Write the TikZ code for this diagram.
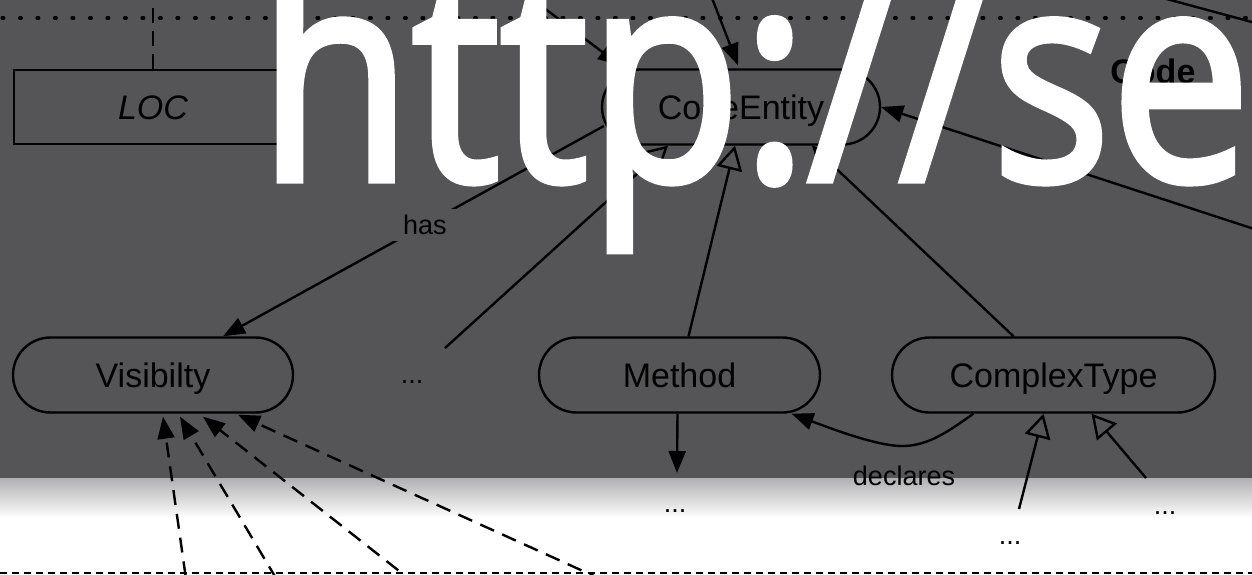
\documentclass[tikz,border=0pt]{standalone}
\usepackage{fontspec}
\setmainfont{Liberation Sans}
\newfontfamily\urlfont[FakeBold=2.5]{Open Sans}
\usetikzlibrary{arrows.meta,shapes.misc}

\definecolor{bggray}{RGB}{85,85,87}
\definecolor{fadegray}{RGB}{176,176,178}

\tikzset{
  entity/.style={draw, rounded rectangle, line width=1.2pt, inner sep=0pt,
    minimum height=37.5pt, text height=12.5pt, text depth=0.5pt,
    font=\fontsize{17}{20}\selectfont},
  lbl/.style={font=\fontsize{13.5}{16}\selectfont, inner sep=0pt},
  assoc/.style={line width=1.2pt, -{Triangle[length=11pt,width=8.5pt]}},
  inherit/.style={line width=1.2pt, -{Triangle[open,length=12pt,width=13pt]}},
  depend/.style={assoc, dash pattern=on 7.5pt off 4.5pt},
}

\begin{document}
\begin{tikzpicture}[x=0.5pt,y=-0.5pt]
\clip (0,0) rectangle (1252,574);

% background
\fill[bggray] (0,0) rectangle (1252,478);
\shade[top color=fadegray, bottom color=white] (0,478) rectangle (1252,518);

% package borders
\draw[line width=1.6pt, line cap=round, dash pattern=on 0.9pt off 7.85pt] (2,18) -- (1252,18);
\draw[line width=1.2pt, dash pattern=on 3.5pt off 2.5pt] (0,573) -- (1252,573);

% nodes
\node[draw, line width=1.2pt, minimum width=139pt, minimum height=37pt,
  text height=12.5pt, text depth=0.5pt,
  font=\fontsize{17}{20}\selectfont\itshape] (LOC) at (153,107) {LOC};
\node[entity, minimum width=139pt] (CodeEntity) at (741,107) {CodeEntity};
\node[entity, minimum width=140pt] (Visibilty) at (153,375) {Visibilty};
\node[entity, minimum width=140.5pt] (Method) at (679.5,375) {Method};
\node[entity, minimum width=161.5pt] (ComplexType) at (1053.5,375) {ComplexType};
\node[anchor=base west, inner sep=0pt, font=\fontsize{17}{20}\selectfont\bfseries] (pkg) at (1110,83) {Code};

\node[lbl, anchor=base] (dotsA) at (412,383) {...};
\node[lbl, anchor=base] (dotsB) at (675,512) {...};
\node[lbl, anchor=base] (dotsC) at (1010,544) {...};
\node[lbl, anchor=base] (dotsD) at (1165,514) {...};
\node[lbl] (declares) at (904,476) {declares};

% ends outside the picture
\coordinate (inA) at (507,-20);
\coordinate (inB) at (705,-20);
\coordinate (inC) at (1300,244);
\coordinate (offA) at (1100,-19);
\coordinate (offB) at (1300,35);
\coordinate (locup) at (153,-10);
\coordinate (visA) at (189,600);
\coordinate (visB) at (289,600);
\coordinate (visC) at (436,600);
\coordinate (visD) at (647,600);

% connectors
\draw[line width=1.2pt, dash pattern=on 7.5pt off 4pt] (LOC.north) -- (locup);
\draw[assoc] (inA) -- ([xshift=-60.5pt,yshift=1.5pt]CodeEntity.north);
\draw[assoc] (inB) -- ([xshift=-1.5pt,yshift=1.5pt]CodeEntity.north);
\draw[assoc] (inC) -- (CodeEntity.east);
\draw[line width=1.2pt] (offA) -- (offB);
\draw[assoc] ([shift={(1.5pt,-9.5pt)}]CodeEntity.west) -- node[pos=0.47, lbl, fill=bggray, inner xsep=9pt, inner ysep=3pt] (has) {has} ([xshift=35pt]Visibilty.north);
\draw[inherit] ([shift={(16.5pt,17.5pt)}]dotsA.base) -- ([xshift=-36.5pt]CodeEntity.south);
\draw[inherit] ([xshift=4.5pt]Method.north) -- ([xshift=-3pt]CodeEntity.south);
\draw[inherit] ([xshift=-20pt]ComplexType.north) -- ([xshift=35.5pt]CodeEntity.south);
\draw[assoc] ([xshift=-1pt]Method.south) -- ([shift={(1pt,19.5pt)}]dotsB.base);
\draw[assoc] ([xshift=-40pt]ComplexType.south) .. controls (950,430) and (928,447) .. (900,446)
  .. controls (875,445) and (835,430) .. ([xshift=56pt]Method.south);
\draw[inherit] ([shift={(4.5pt,17.5pt)}]dotsC.base) -- ([xshift=-5pt]ComplexType.south);
\draw[inherit] ([shift={(-9.5pt,18pt)}]dotsD.base) -- ([xshift=19pt]ComplexType.south);
\draw[depend] (visA) -- ([xshift=5pt,yshift=-1.5pt]Visibilty.south);
\draw[depend] (visB) -- ([xshift=13.5pt,yshift=-1.5pt]Visibilty.south);
\draw[depend] (visC) -- ([xshift=25pt,yshift=-1.5pt]Visibilty.south);
\draw[depend] (visD) -- ([xshift=42.5pt,yshift=-0.5pt]Visibilty.south);

% address over the picture
\node[anchor=base west, inner sep=0pt, text=white, font=\urlfont\fontsize{147}{148}\selectfont] (url) at (258,180) {\scalebox{0.85}[1]{http://se}};

\end{tikzpicture}
\end{document}
